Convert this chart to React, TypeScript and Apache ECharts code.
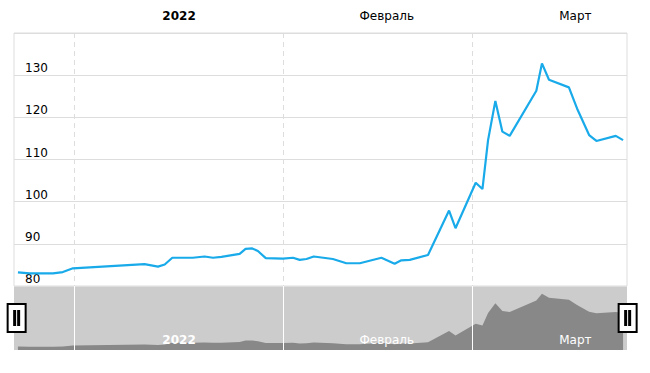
import React, { useEffect, useRef } from 'react';
import * as echarts from 'echarts';

const dates = [
  '2021-12-23 14:00', '2021-12-25 08:00', '2021-12-28 19:00', '2021-12-30 06:00', '2021-12-31 18:00',
  '2022-01-11 09:00', '2022-01-13 09:00', '2022-01-14 09:00', '2022-01-15 12:00', '2022-01-18 13:00',
  '2022-01-20 07:00', '2022-01-21 13:00', '2022-01-22 19:00', '2022-01-25 12:00', '2022-01-26 09:00',
  '2022-01-27 09:00', '2022-01-28 05:00', '2022-01-29 09:00', '2022-01-31 22:00', '2022-02-02 10:00',
  '2022-02-03 10:00', '2022-02-04 10:00', '2022-02-05 12:00', '2022-02-08 08:00', '2022-02-10 08:00',
  '2022-02-12 08:00', '2022-02-15 13:00', '2022-02-17 12:00', '2022-02-18 12:00', '2022-02-19 18:00',
  '2022-02-22 11:00', '2022-02-25 14:00', '2022-02-26 13:00', '2022-03-01 13:00', '2022-03-02 13:00',
  '2022-03-03 09:00', '2022-03-04 11:00', '2022-03-05 12:00', '2022-03-06 14:00', '2022-03-10 13:00',
  '2022-03-11 09:00', '2022-03-12 10:00', '2022-03-15 09:00', '2022-03-16 14:00', '2022-03-18 09:00',
  '2022-03-19 11:00', '2022-03-22 08:00', '2022-03-23 10:00',
];
const values = [
  83.25, 83.0, 83.0, 83.3, 84.2,
  85.2, 84.6, 85.1, 86.7, 86.7,
  87.0, 86.7, 86.9, 87.6, 88.8,
  88.9, 88.3, 86.6, 86.5, 86.7,
  86.2, 86.4, 87.0, 86.4, 85.4,
  85.4, 86.7, 85.3, 86.1, 86.2,
  87.35, 97.9, 93.7, 104.5, 103.0,
  114.6, 123.9, 116.6, 115.6, 126.3,
  132.8, 128.9, 127.1, 122.1, 115.8,
  114.4, 115.6, 114.6,
];

const axisStart = '2021-12-23 00:00';
const axisEnd = '2022-03-24 00:00';
const monthStarts = ['2022-01-01 00:00', '2022-02-01 00:00', '2022-03-01 00:00'];
const monthLabelDates = ['2022-01-16 12:00', '2022-02-16 08:00', '2022-03-16 08:00'];
const monthLabels = ['2022', 'Февраль', 'Март'];
const yMin = 80;
const yMax = 140;
const yStep = 10;

function ts(s: string): number {
  const [d, h = '00:00'] = s.split(' ');
  const [Y, M, D] = d.split('-').map(Number);
  const [hh, mm] = h.split(':').map(Number);
  return new Date(Y, M - 1, D, hh, mm).getTime();
}

const FONT = 'DejaVu Sans';

function monthFormatter(value: number) {
  const m = new Date(value).getMonth();
  const idx = m === 0 ? 0 : m === 1 ? 1 : 2;
  return idx === 0 ? '{b|' + monthLabels[0] + '}' : monthLabels[idx];
}

export default function App() {
  const ref = useRef<HTMLDivElement>(null);
  useEffect(() => {
    if (!ref.current) return;
    const chart = echarts.init(ref.current, null, { renderer: 'svg' });
    const data = dates.map((d, i) => [ts(d), values[i]]);
    const starts = monthStarts.map(ts);
    const mids = monthLabelDates.map(ts);
    chart.setOption({
      animation: false,
      backgroundColor: '#ffffff',
      textStyle: { fontFamily: FONT },
      grid: [
        { left: 14, right: 23, top: 33, height: 253, show: true, borderColor: '#dddddd', borderWidth: 1, backgroundColor: 'transparent' },
        { left: 14, right: 23, top: 286, height: 64, show: true, borderWidth: 0, backgroundColor: '#cccccc' },
      ],
      xAxis: [
        {
          type: 'value', gridIndex: 0, position: 'top', min: ts(axisStart), max: ts(axisEnd),
          axisLine: { show: false },
          axisTick: { show: false, customValues: starts },
          splitLine: { show: true, lineStyle: { color: '#dddddd', type: [5, 4], width: 1 } },
          axisLabel: {
            customValues: mids, margin: 11, color: '#000000', fontSize: 12, fontFamily: FONT,
            formatter: monthFormatter,
            rich: { b: { fontWeight: 'bold', fontSize: 12, color: '#000000', fontFamily: FONT } },
          },
        },
        {
          type: 'value', gridIndex: 1, position: 'bottom', min: ts(axisStart), max: ts(axisEnd),
          z: 5,
          axisLine: { show: false },
          axisTick: { show: false, customValues: starts },
          splitLine: { show: true, lineStyle: { color: '#ffffff', width: 1 } },
          axisLabel: {
            inside: true, customValues: mids, margin: 4, color: '#ffffff', fontSize: 12, fontFamily: FONT,
            formatter: monthFormatter,
            rich: { b: { fontWeight: 'bold', fontSize: 12, color: '#ffffff', fontFamily: FONT } },
          },
        },
      ],
      yAxis: [
        {
          type: 'value', gridIndex: 0, min: yMin, max: yMax, interval: yStep,
          axisLine: { show: false }, axisTick: { show: false },
          splitLine: { show: true, lineStyle: { color: '#dddddd', width: 1 } },
          axisLabel: {
            inside: true, margin: 11, color: '#000000', fontSize: 12, fontFamily: FONT,
            verticalAlign: 'bottom', showMaxLabel: false, padding: [0, 0, 1, 0],
          },
        },
        {
          type: 'value', gridIndex: 1, min: yMin, max: yMax, show: false,
          splitLine: { show: false },
        },
      ],
      dataZoom: [
        {
          type: 'slider', xAxisIndex: 0, start: 0, end: 100, filterMode: 'none',
          left: 14, right: 23, top: 286, height: 64, z: 10,
          showDataShadow: false, showDetail: false, brushSelect: false,
          backgroundColor: 'transparent', fillerColor: 'transparent', borderColor: 'transparent',
          handleIcon: 'path://M0,0H18V28H0Z M6.5,7H7.5V21H6.5Z M10.5,7H11.5V21H10.5Z',
          handleSize: 28,
          handleStyle: { color: '#ffffff', borderColor: '#000000', borderWidth: 2 },
          moveHandleSize: 0,
          moveHandleStyle: { opacity: 0 },
          emphasis: { handleStyle: { color: '#ffffff', borderColor: '#000000' }, moveHandleStyle: { opacity: 0 } },
        },
      ],
      series: [
        {
          type: 'line', xAxisIndex: 0, yAxisIndex: 0, data,
          showSymbol: false, symbol: 'none',
          lineStyle: { color: '#19aaea', width: 2.2 },
          itemStyle: { color: '#19aaea' },
          z: 3,
        },
        {
          type: 'line', xAxisIndex: 1, yAxisIndex: 1, data,
          showSymbol: false, symbol: 'none',
          lineStyle: { width: 0, color: '#888888' },
          areaStyle: { color: '#888888', opacity: 1, origin: 'start' },
          silent: true,
          z: 1,
        },
      ],
    });
    return () => chart.dispose();
  }, []);
  return <div ref={ref} style={{ position: 'fixed', left: 0, top: 0, width: 650, height: 373 }} />;
}
